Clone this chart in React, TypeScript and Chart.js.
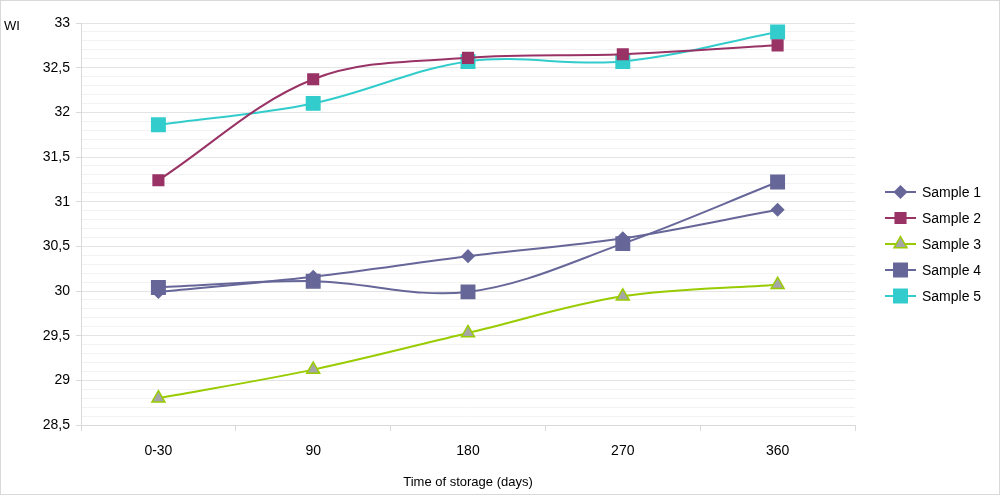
import React, { useEffect, useRef } from 'react';
import { Chart, registerables } from 'chart.js';

Chart.register(...registerables);

const categories = ['0-30', '90', '180', '270', '360'];
const seriesNames = ['Sample 1', 'Sample 2', 'Sample 3', 'Sample 4', 'Sample 5'];
const sample1 = [29.99, 30.16, 30.39, 30.59, 30.91];
const sample2 = [31.24, 32.37, 32.61, 32.65, 32.75];
const sample3 = [28.8, 29.12, 29.53, 29.94, 30.07];
const sample4 = [30.04, 30.11, 29.99, 30.53, 31.22];
const sample5 = [31.86, 32.1, 32.57, 32.57, 32.9];
const yMin = 28.5;
const yMax = 33;
const yMinorStep = 0.1;
const yMajorStep = 0.5;
const yTitle = 'WI';
const xTitle = 'Time of storage (days)';

const FONT = "'Liberation Sans', Arial, sans-serif";

type Style = {
  line: string;
  fill: string;
  stroke: string;
  shape: 'rect' | 'rectRot' | 'triangle';
  radius: number;
};

const styles: Style[] = [
  { line: '#666699', fill: '#666699', stroke: '#666699', shape: 'rectRot', radius: 6 },
  { line: '#993366', fill: '#993366', stroke: '#993366', shape: 'rect', radius: 7.5 },
  { line: '#99cc00', fill: '#a6a6a6', stroke: '#99cc00', shape: 'triangle', radius: 7.5 },
  { line: '#666699', fill: '#666699', stroke: '#666699', shape: 'rect', radius: 9.5 },
  { line: '#33cccc', fill: '#33cccc', stroke: '#33cccc', shape: 'rect', radius: 9.5 },
];

const seriesValues = [sample1, sample2, sample3, sample4, sample5];

function isMajor(v: number) {
  const q = v / yMajorStep;
  return Math.abs(q - Math.round(q)) < 1e-6;
}

function drawMarker(ctx: CanvasRenderingContext2D, s: Style, x: number, y: number) {
  const r = s.radius;
  ctx.beginPath();
  if (s.shape === 'rect') {
    const h = r * Math.SQRT1_2;
    ctx.rect(x - h, y - h, 2 * h, 2 * h);
  } else if (s.shape === 'rectRot') {
    ctx.moveTo(x - r, y);
    ctx.lineTo(x, y - r);
    ctx.lineTo(x + r, y);
    ctx.lineTo(x, y + r);
    ctx.closePath();
  } else {
    ctx.moveTo(x, y - r);
    ctx.lineTo(x + 0.866 * r, y + 0.5 * r);
    ctx.lineTo(x - 0.866 * r, y + 0.5 * r);
    ctx.closePath();
  }
  ctx.fillStyle = s.fill;
  ctx.fill();
  ctx.lineWidth = 1.5;
  ctx.strokeStyle = s.stroke;
  ctx.stroke();
}

const framePlugin = {
  id: 'frame',
  beforeDraw(chart: any) {
    const ctx = chart.ctx as CanvasRenderingContext2D;
    ctx.save();
    ctx.fillStyle = '#ffffff';
    ctx.fillRect(0, 0, chart.width, chart.height);
    ctx.strokeStyle = '#d9d9d9';
    ctx.lineWidth = 1;
    ctx.strokeRect(0.5, 0.5, chart.width - 1, chart.height - 1);
    ctx.restore();
  },
  afterDraw(chart: any) {
    const ctx = chart.ctx as CanvasRenderingContext2D;
    ctx.save();
    ctx.fillStyle = '#000';
    ctx.font = `13px ${FONT}`;
    ctx.textAlign = 'left';
    ctx.textBaseline = 'middle';
    ctx.fillText(yTitle, 4, 26);
    const lx0 = 885;
    const lx1 = 916;
    const ly0 = 192;
    const dy = 26;
    seriesNames.forEach((name, i) => {
      const s = styles[i];
      const y = ly0 + i * dy;
      ctx.beginPath();
      ctx.moveTo(lx0, y);
      ctx.lineTo(lx1, y);
      ctx.strokeStyle = s.line;
      ctx.lineWidth = 2;
      ctx.stroke();
      drawMarker(ctx, s, (lx0 + lx1) / 2, y);
      ctx.fillStyle = '#000';
      ctx.font = `14px ${FONT}`;
      ctx.textAlign = 'left';
      ctx.textBaseline = 'middle';
      ctx.fillText(name, 922, y + 1);
    });
    ctx.restore();
  },
};

export default function App() {
  const ref = useRef<HTMLCanvasElement | null>(null);

  useEffect(() => {
    document.body.style.margin = '0';
    if (!ref.current) return;
    const datasets = seriesValues.map((vals, i) => {
      const s = styles[i];
      return {
        label: seriesNames[i],
        data: vals,
        borderColor: s.line,
        backgroundColor: s.fill,
        borderWidth: 2,
        tension: 0.35,
        pointStyle: s.shape,
        pointRadius: s.radius,
        pointBackgroundColor: s.fill,
        pointBorderColor: s.stroke,
        pointBorderWidth: 1.5,
        fill: false,
      };
    });
    const chart = new Chart(ref.current, {
      type: 'line',
      data: { labels: categories, datasets },
      options: {
        animation: false,
        responsive: false,
        maintainAspectRatio: false,
        layout: { padding: { left: 0, right: 145, top: 23, bottom: 0 } },
        plugins: { legend: { display: false }, tooltip: { enabled: false } },
        scales: {
          x: {
            type: 'category',
            offset: true,
            grid: {
              offset: true,
              drawOnChartArea: false,
              drawTicks: true,
              tickLength: 6,
              tickColor: '#d9d9d9',
            },
            border: { color: '#d9d9d9' },
            ticks: {
              font: { family: FONT, size: 14 },
              color: '#000',
              padding: 12,
              maxRotation: 0,
            },
            title: {
              display: true,
              text: xTitle,
              font: { family: FONT, size: 13 },
              color: '#000',
              padding: { top: 8, bottom: 5 },
            },
            afterFit: (s: any) => {
              s.height = 70;
            },
          },
          y: {
            type: 'linear',
            min: yMin,
            max: yMax,
            ticks: {
              stepSize: yMinorStep,
              maxTicksLimit: 100,
              autoSkip: false,
              padding: 6,
              font: { family: FONT, size: 14 },
              color: '#000',
              callback: (v: any) => {
                const n = Number(v);
                if (!isMajor(n)) return '';
                return String(Math.round(n * 10) / 10).replace('.', ',');
              },
            },
            grid: {
              color: (c: any) => (isMajor(c.tick.value) ? '#e4e4e4' : '#f2f2f2'),
              tickColor: (c: any) => (isMajor(c.tick.value) ? '#d9d9d9' : 'rgba(0,0,0,0)'),
              tickLength: 5,
              lineWidth: 1,
            },
            border: { color: '#d9d9d9' },
            afterFit: (s: any) => {
              s.width = 81;
            },
          },
        },
      },
      plugins: [framePlugin],
    } as any);
    return () => chart.destroy();
  }, []);

  return (
    <div style={{ position: 'absolute', left: 0, top: 0, width: 1000, height: 495 }}>
      <canvas ref={ref} width={1000} height={495} />
    </div>
  );
}
